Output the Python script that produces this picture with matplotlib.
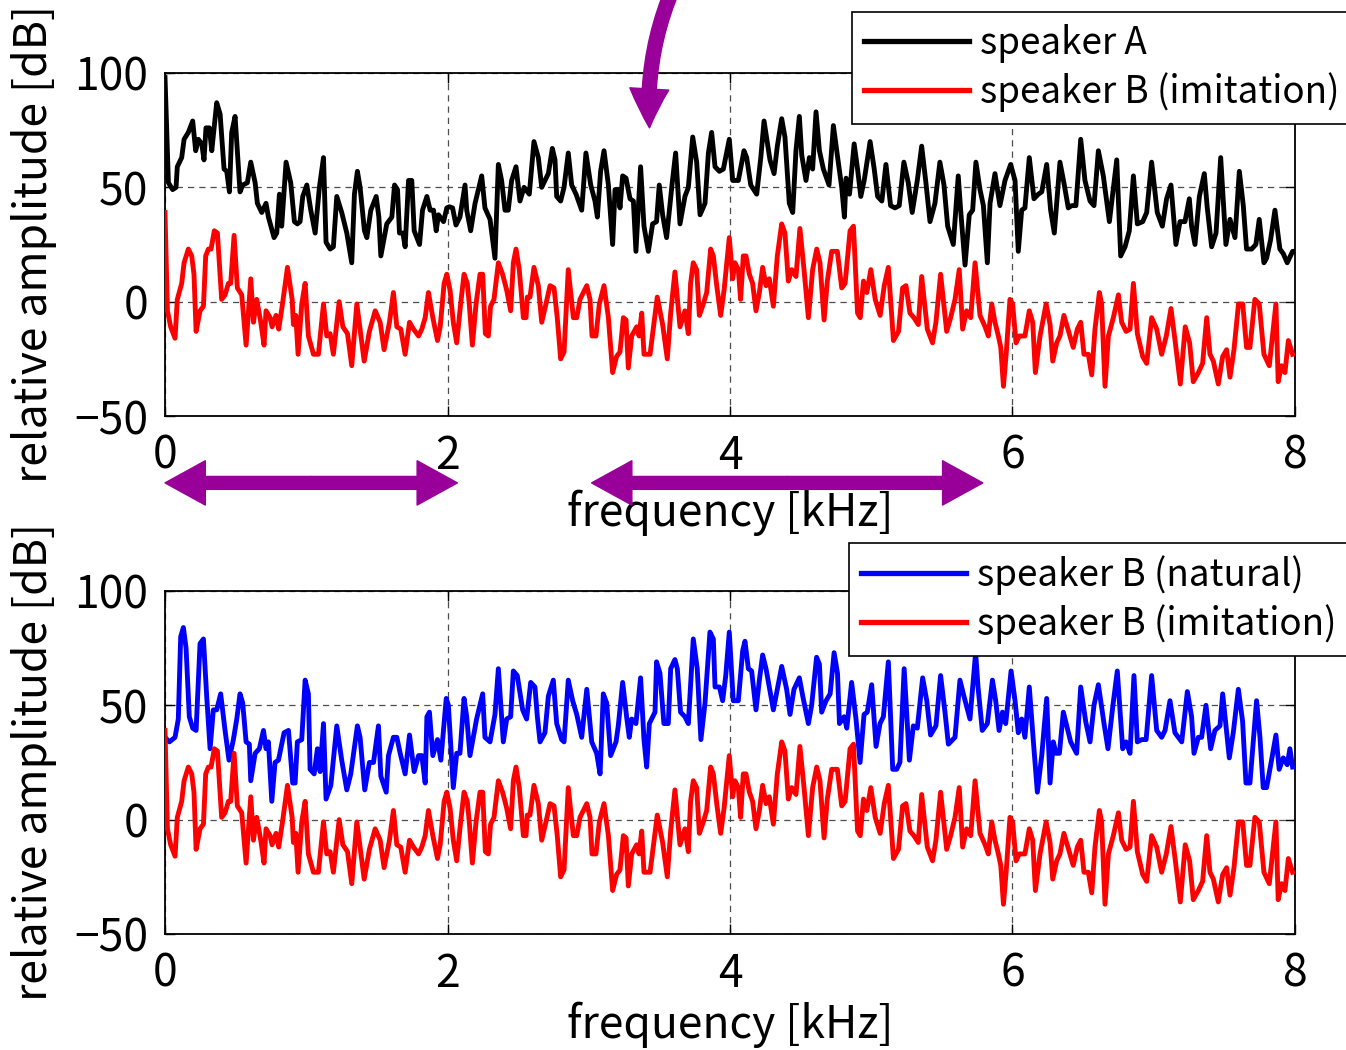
import matplotlib
matplotlib.use("Agg")
import matplotlib.pyplot as plt
from matplotlib.lines import Line2D

plt.rcParams['font.family'] = ['Noto Sans CJK JP', 'DejaVu Sans']

# (frequency kHz, relative amplitude dB)
speaker_a = [(0.000,98),(0.024,52),(0.054,49),(0.078,50),(0.087,59),(0.118,63),(0.135,71),(0.165,74),(0.196,79),(0.217,66),
 (0.236,71),(0.260,69),(0.276,62),(0.290,76),(0.314,76),(0.331,66),(0.366,87),(0.390,82),(0.418,58),(0.437,57),
 (0.456,48),(0.472,74),(0.496,81),(0.515,63),(0.531,48),(0.550,51),(0.583,52),(0.607,61),(0.638,52),(0.654,43),
 (0.685,39),(0.715,43),(0.732,37),(0.772,28),(0.791,30),(0.810,47),(0.826,33),(0.857,61),(0.890,52),(0.916,35),
 (0.937,34),(0.956,35),(0.975,46),(1.004,51),(1.032,40),(1.063,30),(1.093,50),(1.122,63),(1.140,26),(1.169,23),
 (1.192,24),(1.216,46),(1.251,39),(1.287,30),(1.322,17),(1.341,47),(1.362,57),(1.381,50),(1.412,31),(1.429,28),
 (1.457,40),(1.495,46),(1.514,37),(1.528,20),(1.570,34),(1.606,37),(1.625,51),(1.646,49),(1.660,30),(1.684,30),
 (1.700,24),(1.724,53),(1.747,53),(1.764,31),(1.802,25),(1.823,40),(1.854,46),(1.877,40),(1.901,40),(1.920,31),
 (1.936,38),(1.972,35),(1.995,41),
 (2.013,41.5),(2.036,41),(2.060,33.5),(2.088,37),(2.124,51),(2.136,40),(2.164,31),(2.195,43),(2.242,55),(2.265,41),
 (2.301,36),(2.336,19),(2.360,60),(2.383,53),(2.407,40),(2.430,40),(2.454,53),(2.485,59),(2.513,44),(2.542,50),
 (2.579,47),(2.612,70),(2.643,63),(2.667,50),(2.690,53),(2.714,56),(2.742,67),(2.761,62),(2.773,46),(2.801,44),
 (2.825,50),(2.855,65),(2.879,51),(2.910,47),(2.950,40),(2.980,65),(3.014,51),(3.044,44),(3.061,37),(3.084,57),
 (3.108,66),(3.139,51),(3.169,25),(3.186,49),(3.209,49),(3.221,41),(3.240,55),(3.264,54),(3.292,45),(3.316,44),
 (3.334,22),(3.367,59),(3.391,33),(3.422,22),(3.452,34),(3.480,35),(3.499,51),(3.523,38),(3.551,28),(3.591,52),
 (3.615,65),(3.646,34),(3.681,46),(3.705,50),(3.736,72),(3.764,61),(3.788,38),(3.823,43),(3.847,65),(3.870,74),
 (3.894,59),(3.925,57),(3.953,58),
 (3.995,71),(4.019,53),(4.059,53),(4.099,66),(4.118,63),(4.147,51),(4.189,47),(4.218,63),(4.241,79),(4.283,62),
 (4.312,56),(4.335,68),(4.366,80),(4.389,72),(4.420,43),(4.444,39),(4.467,66),(4.491,81),(4.508,64),(4.538,53),
 (4.562,63),(4.585,58),(4.609,83),(4.633,66),(4.661,58),(4.701,51),(4.732,77),(4.760,64),(4.791,50),(4.810,37),
 (4.822,54),(4.846,47),(4.879,69),(4.903,58),(4.926,46),(4.950,53),(4.992,70),(5.021,58),(5.045,46),(5.075,44),
 (5.104,60),(5.137,42),(5.168,41),(5.198,42),(5.231,61),(5.262,52),(5.290,39),(5.326,53),(5.357,68),(5.387,52),
 (5.416,35),(5.451,43),(5.486,61),(5.515,51),(5.541,33),(5.581,25),(5.616,55),(5.633,40),(5.664,16),(5.694,38),
 (5.718,40),(5.741,61),(5.770,49),(5.794,42),(5.822,17),(5.841,43),(5.876,56),(5.911,42),(5.947,53),
 (5.987,60),(6.018,53),(6.041,22),(6.065,40),(6.088,41),(6.119,63),(6.152,45),(6.183,47),(6.207,48),(6.242,60),
 (6.270,40),(6.296,30),(6.336,61),(6.364,52),(6.395,41),(6.419,42),(6.449,42),(6.483,71),(6.513,53),(6.549,44),
 (6.577,42),(6.608,66),(6.643,55),(6.686,35),(6.738,62),(6.766,20),(6.797,24),(6.827,31),(6.856,55),(6.884,34),
 (6.922,35),(6.950,39),(6.985,61),(7.025,39),(7.061,33),(7.091,45),(7.122,51),(7.157,25),(7.186,35),(7.221,35),
 (7.252,45),(7.268,33),(7.292,25),(7.323,46),(7.358,56),(7.379,41),(7.410,24),(7.441,30),(7.474,63),(7.511,25),
 (7.540,36),(7.575,28),(7.606,57),(7.634,42),(7.657,23),(7.693,23),(7.723,25),(7.747,36),(7.780,17),(7.799,19),
 (7.827,27),(7.858,40),(7.893,23),(7.917,21),(7.945,17),(7.983,22),(8.000,22)]

speaker_b_imitation = [(0.000,39),(0.017,-4),(0.040,-11),(0.071,-16),(0.087,1),(0.118,8),(0.135,17),(0.165,23),(0.189,20),(0.205,12),
 (0.220,-13),(0.248,-4),(0.272,-2),(0.288,20),(0.307,23),(0.326,23),(0.349,31),(0.371,30),(0.401,1),(0.425,3),
 (0.449,8),(0.465,8),(0.489,29),(0.512,6),(0.543,3),(0.574,-19),(0.607,10),(0.626,-9),(0.649,1),(0.678,-9),
 (0.701,-19),(0.715,-4),(0.744,-7),(0.758,-11),(0.786,-6),(0.805,-12),(0.834,0),(0.867,15),(0.900,1),(0.909,-10),
 (0.926,-6),(0.942,-23),(0.968,-1),(0.992,8),(1.015,-15),(1.051,-23),(1.086,-23),(1.122,-1),(1.145,-15),(1.169,-14),
 (1.192,-23),(1.233,0),(1.259,-11),(1.292,-14),(1.322,-28),(1.358,-1),(1.381,-12),(1.410,-26),(1.447,-13),(1.488,-4),
 (1.523,-9),(1.551,-21),(1.589,-9),(1.617,4),(1.641,-11),(1.669,-12),(1.700,-23),(1.731,-9),(1.759,-12),(1.795,-15),
 (1.818,-12),(1.842,-7),(1.865,4),(1.896,-7),(1.929,-17),(1.948,-11),(1.976,8),(1.995,12),
 (2.018,5),(2.041,-9),(2.065,-18),(2.093,-1),(2.117,12),(2.140,8),(2.154,-1),(2.176,-19),(2.202,-1),(2.230,12),
 (2.249,12),(2.268,-14),(2.289,-15),(2.305,-2),(2.329,1),(2.360,17),(2.390,12),(2.419,5),(2.447,-4),(2.466,17),
 (2.485,23),(2.508,14),(2.537,-7),(2.556,-7),(2.565,2),(2.584,2),(2.612,15),(2.643,7),(2.667,-9),(2.697,-1),
 (2.726,7),(2.754,6),(2.777,-7),(2.801,-25),(2.825,-22),(2.855,14),(2.891,-7),(2.915,-7),(2.938,1),(2.986,7),
 (3.009,1),(3.023,-15),(3.051,-15),(3.075,-1),(3.108,7),(3.139,-7),(3.169,-31),(3.197,-24),(3.221,-22),(3.245,-7),
 (3.264,-8),(3.280,-29),(3.304,-15),(3.339,-11),(3.356,-15),(3.375,-5),(3.391,-23),(3.434,-23),(3.485,2),(3.523,-10),
 (3.556,-25),(3.580,-5),(3.610,13),(3.646,-11),(3.681,-4),(3.705,-14),(3.721,8),(3.740,17),(3.764,14),(3.783,-6),
 (3.811,-1),(3.835,4),(3.863,23),(3.882,20),(3.906,7),(3.934,-6),
 (3.958,5),(3.995,28),(4.019,10),(4.035,17),(4.059,14),(4.075,1),(4.094,20),(4.113,20),(4.137,12),(4.160,8),
 (4.184,-4),(4.208,4),(4.231,15),(4.255,7),(4.278,10),(4.307,-2),(4.335,20),(4.366,34),(4.389,30),(4.413,9),
 (4.437,14),(4.467,11),(4.495,32),(4.524,14),(4.555,-7),(4.585,14),(4.614,23),(4.637,17),(4.666,-8),(4.689,9),
 (4.720,22),(4.760,22),(4.791,6),(4.815,8),(4.850,31),(4.874,33),(4.903,-5),(4.922,-7),(4.945,9),(4.969,4),
 (4.997,14),(5.028,1),(5.063,-6),(5.092,7),(5.121,15),(5.157,-17),(5.193,-13),(5.222,6),(5.246,7),(5.274,-5),
 (5.302,-7),(5.333,-10),(5.357,11),(5.397,-12),(5.434,-18),(5.458,-9),(5.491,12),(5.534,-13),(5.562,-7),(5.593,1),
 (5.623,14),(5.647,-12),(5.675,-4),(5.704,-7),(5.735,17),(5.770,-6),(5.806,-11),(5.829,-15),(5.853,-1),(5.876,-9),
 (5.900,-15),(5.917,-20),(5.936,-37),(5.955,-23),(5.982,1),
 (6.001,-1),(6.025,-18),(6.048,-15),(6.065,-15),(6.088,-15),(6.119,-4),(6.143,-9),(6.162,-31),(6.195,-15),(6.238,-1),
 (6.266,-10),(6.285,-26),(6.313,-18),(6.336,-15),(6.364,-6),(6.402,-14),(6.430,-20),(6.459,-12),(6.483,-9),(6.506,-23),
 (6.537,-23),(6.561,-32),(6.584,-12),(6.615,4),(6.631,-1),(6.655,-37),(6.679,-15),(6.714,-7),(6.750,3),(6.773,-9),
 (6.804,-13),(6.832,-12),(6.856,8),(6.884,-14),(6.922,-24),(6.950,-27),(6.985,-7),(7.021,-12),(7.056,-23),(7.089,-15),
 (7.122,-3),(7.153,-18),(7.188,-36),(7.223,-11),(7.254,-18),(7.280,-35),(7.316,-31),(7.346,-27),(7.375,-7),(7.398,-23),
 (7.422,-26),(7.457,-36),(7.488,-24),(7.516,-21),(7.540,-33),(7.568,-21),(7.600,-1),(7.630,-1),(7.657,-20),(7.681,-20),
 (7.716,1),(7.747,-1),(7.780,-23),(7.818,-28),(7.846,-12),(7.865,-1),(7.881,-35),(7.905,-28),(7.929,-31),(7.953,-17),
 (7.983,-23)]

speaker_b_natural = [(0.000,36),(0.031,34),(0.071,36),(0.094,44),(0.111,80),(0.130,84),(0.149,75),(0.172,45),(0.196,40),(0.220,39),
 (0.248,77),(0.272,79),(0.295,54),(0.319,31),(0.342,48),(0.366,48),(0.394,55),(0.425,39),(0.453,26),(0.484,35),
 (0.508,44),(0.531,55),(0.550,51),(0.574,34),(0.597,33),(0.607,17),(0.638,29),(0.668,31),(0.697,39),(0.715,31),
 (0.732,34),(0.756,8),(0.779,25),(0.803,26),(0.843,38),(0.874,39),(0.904,16),(0.921,16),(0.937,34),(0.968,35),
 (0.992,61),(1.015,55),(1.027,22),(1.056,20),(1.079,31),(1.098,21),(1.122,42),(1.140,9),(1.174,15),(1.216,41),
 (1.251,26),(1.287,13),(1.315,20),(1.362,41),(1.381,36),(1.414,13),(1.447,25),(1.476,25),(1.511,41),(1.528,19),
 (1.566,12),(1.582,28),(1.617,36),(1.641,36),(1.665,29),(1.700,20),(1.731,37),(1.764,21),(1.795,28),(1.818,28),
 (1.842,16),(1.854,45),(1.872,47),(1.896,28),(1.929,35),(1.953,26),(1.991,53),
 (2.006,50),(2.041,14),(2.065,29),(2.088,29),(2.117,53),(2.136,45),(2.159,28),(2.206,44),(2.249,55),(2.265,36),
 (2.301,34),(2.336,46),(2.360,66),(2.395,34),(2.419,44),(2.447,45),(2.466,65),(2.494,63),(2.532,48),(2.560,44),
 (2.589,60),(2.619,58),(2.636,45),(2.655,34),(2.690,38),(2.714,54),(2.749,61),(2.773,42),(2.808,35),(2.825,34),
 (2.855,61),(2.886,52),(2.915,46),(2.950,36),(2.986,57),(3.021,34),(3.056,29),(3.080,20),(3.103,55),(3.127,51),
 (3.155,28),(3.193,34),(3.209,41),(3.240,60),(3.268,45),(3.287,36),(3.304,44),(3.334,42),(3.367,62),(3.391,35),
 (3.410,23),(3.429,42),(3.469,47),(3.480,69),(3.504,64),(3.532,42),(3.563,42),(3.580,66),(3.610,70),(3.627,66),
 (3.650,47),(3.681,45),(3.705,42),(3.740,79),(3.768,66),(3.794,35),(3.823,51),(3.858,82),(3.882,79),(3.894,58),
 (3.925,58),(3.948,52),(3.970,63),
 (3.995,82),(4.023,52),(4.059,52),(4.090,74),(4.106,78),(4.130,66),(4.153,65),(4.184,48),(4.208,61),(4.231,72),
 (4.255,66),(4.278,58),(4.307,48),(4.335,57),(4.366,67),(4.401,57),(4.425,46),(4.453,57),(4.491,62),(4.515,54),
 (4.555,42),(4.578,50),(4.613,71),(4.633,68),(4.649,47),(4.680,52),(4.709,55),(4.737,73),(4.761,64),(4.775,42),
 (4.808,45),(4.827,40),(4.861,60),(4.892,44),(4.921,25),(4.949,46),(4.972,47),(5.003,59),(5.034,32),(5.062,42),
 (5.086,45),(5.121,69),(5.152,22),(5.180,22),(5.203,25),(5.233,66),(5.270,26),(5.298,41),(5.326,40),(5.364,62),
 (5.393,52),(5.420,37),(5.458,41),(5.491,63),(5.522,47),(5.546,33),(5.593,36),(5.628,61),(5.656,54),(5.699,44),
 (5.739,73),(5.756,58),(5.786,39),(5.822,42),(5.858,61),(5.881,52),(5.905,39),(5.929,47),(5.952,42),
 (5.990,65),(6.018,52),(6.041,38),(6.065,44),(6.088,36),(6.119,58),(6.148,34),(6.176,12),(6.207,28),(6.242,53),
 (6.266,16),(6.289,34),(6.308,29),(6.332,29),(6.360,47),(6.384,41),(6.412,34),(6.454,29),(6.483,58),(6.518,43),
 (6.549,34),(6.577,50),(6.608,59),(6.648,42),(6.676,31),(6.711,50),(6.742,65),(6.780,31),(6.804,34),(6.832,29),
 (6.860,63),(6.884,34),(6.915,35),(6.946,35),(6.985,63),(7.021,39),(7.056,36),(7.080,39),(7.115,52),(7.150,38),
 (7.198,34),(7.238,56),(7.268,45),(7.285,29),(7.316,36),(7.339,36),(7.370,50),(7.403,31),(7.433,39),(7.469,41),
 (7.488,55),(7.535,27),(7.563,38),(7.599,57),(7.629,43),(7.653,16),(7.681,16),(7.728,52),(7.752,36),(7.775,14),
 (7.799,14),(7.834,26),(7.865,37),(7.888,22),(7.917,27),(7.945,24),(7.964,31),(7.983,23)]

x_ticks = [0, 2, 4, 6, 8]
y_ticks = [-50, 0, 50, 100]
band_arrows = [(0.0, 2.07), (3.02, 5.79)]
marker_arrow_freq = 3.43

PURPLE = '#990099'
FS = 32


def unzip(pts):
    return [p[0] for p in pts], [p[1] for p in pts]


fig = plt.figure(figsize=(13.46, 10.5), dpi=100)
ax1 = fig.add_axes([0.1226, 0.6038, 0.8395, 0.3267])
ax2 = fig.add_axes([0.1226, 0.1105, 0.8395, 0.3267])

LW = 3.5
fa, va = unzip(speaker_a)
fr, vr = unzip(speaker_b_imitation)
fb, vb = unzip(speaker_b_natural)

ax1.plot(fa, va, color='black', lw=LW, zorder=3)
ax1.plot(fr, vr, color='red', lw=LW, zorder=3)
ax2.plot(fb, vb, color='blue', lw=LW, zorder=3)
ax2.plot(fr, vr, color='red', lw=LW, zorder=3)

for ax in (ax1, ax2):
    ax.set_xlim(0, 8)
    ax.set_ylim(-50, 100)
    ax.set_xticks(x_ticks)
    ax.set_yticks(y_ticks)
    ax.grid(True, linestyle=(0, (5, 4)), color='0.3', linewidth=0.9)
    ax.tick_params(direction='in', length=7, width=1.0, top=True, right=True,
                   labelsize=FS, pad=12)
    for s in ax.spines.values():
        s.set_linewidth(1.3)
    ax.set_xlabel('frequency [kHz]', fontsize=FS)
    ax.set_ylabel('relative amplitude [dB]', fontsize=FS)
    ax.yaxis.set_label_coords(-0.096, 0.5)
ax1.xaxis.set_label_coords(0.5, -0.215)
ax2.xaxis.set_label_coords(0.5, -0.198)

leg_kw = dict(loc='upper left', borderaxespad=0, frameon=True, fancybox=False,
              edgecolor='black', framealpha=1, fontsize=26.5, handlelength=2.85,
              handletextpad=0.3, labelspacing=0.25, borderpad=0.33)

h1 = [Line2D([], [], color='black', lw=3.8), Line2D([], [], color='red', lw=3.8)]
l1 = ax1.legend(h1, ['speaker A', 'speaker B (imitation)'], bbox_to_anchor=(0.608, 1.178), **leg_kw)
l1.get_frame().set_linewidth(1.2)
l1.set_zorder(10)

h2 = [Line2D([], [], color='blue', lw=3.8), Line2D([], [], color='red', lw=3.8)]
l2 = ax2.legend(h2, ['speaker B (natural)', 'speaker B (imitation)'], bbox_to_anchor=(0.605, 1.14), **leg_kw)
l2.get_frame().set_linewidth(1.2)
l2.set_zorder(10)

# purple annotation arrows
trans = ax1.get_xaxis_transform()
band_style = 'simple,head_length=1.0,head_width=1.1,tail_width=0.32'
for lo, hi in band_arrows:
    mid = (lo + hi) / 2
    for end in (lo, hi):
        ax1.annotate('', xy=(end, -0.195), xytext=(mid, -0.195), xycoords=trans, textcoords=trans,
                     annotation_clip=False,
                     arrowprops=dict(arrowstyle=band_style, color=PURPLE, mutation_scale=29,
                                     shrinkA=0, shrinkB=0))

ax1.annotate('', xy=(marker_arrow_freq, 0.84), xytext=(3.60, 1.25), xycoords=trans, textcoords=trans,
             annotation_clip=False,
             arrowprops=dict(arrowstyle='simple,head_length=1.0,head_width=1.0,tail_width=0.36',
                             color=PURPLE, mutation_scale=28, shrinkA=0, shrinkB=0,
                             connectionstyle='arc3,rad=0.12'))

fig.savefig('out.png', dpi=100)
